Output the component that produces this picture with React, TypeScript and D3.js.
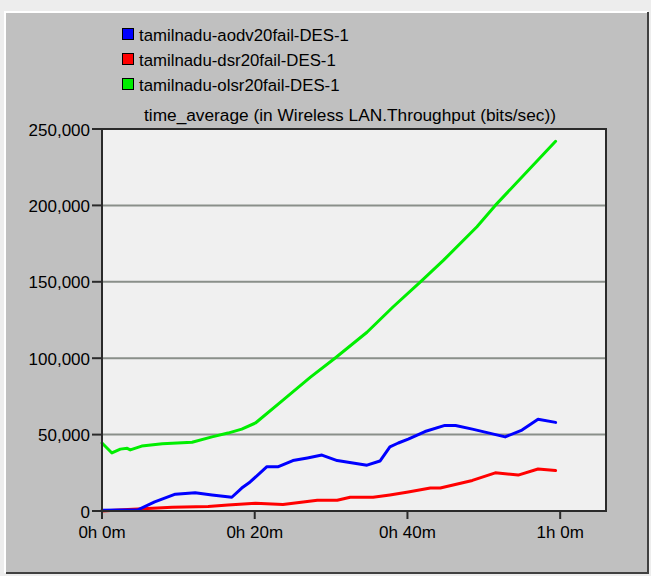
import React, { useEffect, useRef } from "react";
import * as d3 from "d3";

// [minutes, bits/sec]
type Pt = [number, number];

const seriesNames = [
  "tamilnadu-aodv20fail-DES-1",
  "tamilnadu-dsr20fail-DES-1",
  "tamilnadu-olsr20fail-DES-1",
];
const seriesColors = ["#0000ff", "#ff0000", "#00ee00"];

const aodvData: Pt[] = [
  [0, 500], [4.7, 800], [6.9, 6000], [9.6, 11000], [12.2, 12000], [14.4, 10500],
  [17, 9000], [18.3, 15000], [19.4, 19000], [21.6, 29000], [23.1, 29000], [25, 33000],
  [26.9, 34700], [28.8, 36600], [30.8, 33000], [34.7, 30000], [36.4, 32700], [37.7, 42000],
  [38.8, 44500], [40.1, 47000], [42.3, 52000], [44.9, 56000], [46.3, 56000], [48.5, 53600],
  [52.8, 48500], [55, 53000], [57.1, 60000], [59.4, 58000],
];

const dsrData: Pt[] = [
  [0, 0], [3.4, 1000], [9.2, 2500], [13.9, 3000], [16.5, 4000], [20.1, 5000],
  [23.7, 4200], [28.2, 7000], [30.8, 7000], [32.5, 9000], [35.5, 9000], [37.7, 10500],
  [40.1, 12400], [43, 15000], [44.3, 15000], [48.5, 20000], [51.5, 25000], [54.5, 23500],
  [57.1, 27500], [59.4, 26500],
];

const olsrData: Pt[] = [
  [0, 44500], [1.3, 38000], [2.4, 40500], [3.3, 41000], [3.7, 40000], [5.2, 42500],
  [7.9, 44000], [11.8, 45000], [14.4, 48500], [16.5, 51000], [18.3, 53600], [20.1, 57600],
  [23.7, 72600], [27.3, 87600], [30.5, 100000], [34.7, 117000], [38.1, 133500], [41.7, 150000],
  [44.7, 164000], [49.1, 186000], [51.5, 200000], [59.4, 242000],
];

const yTicks = [0, 50000, 100000, 150000, 200000, 250000];
const xTicks = [0, 20, 40, 60];
const xTickLabels = ["0h 0m", "0h 20m", "0h 40m", "1h 0m"];
const chartTitle = "time_average (in Wireless LAN.Throughput (bits/sec))";

const FONT = "'Liberation Sans', Arial, sans-serif";

const ThroughputChart: React.FC = () => {
  const ref = useRef<HTMLDivElement>(null);

  useEffect(() => {
    if (!ref.current) return;
    d3.select(ref.current).selectAll("svg").remove();

    const width = 651;
    const height = 576;
    const plot = { left: 102, right: 606, top: 129, bottom: 511 };

    const svg = d3.select(ref.current)
      .append("svg")
      .attr("width", width)
      .attr("height", height)
      .style("position", "absolute")
      .style("left", 0)
      .style("top", 0)
      .style("font-family", FONT);

    // outside area + beveled gray panel
    svg.append("rect").attr("width", width).attr("height", height).attr("fill", "#ededed");
    svg.append("rect")
      .attr("x", 5).attr("y", 12).attr("width", 643).attr("height", 561)
      .attr("fill", "#c0c0c0");
    svg.append("path").attr("d", "M5,573 V12 H648").attr("fill", "none")
      .attr("stroke", "#ffffff").attr("stroke-width", 2);
    svg.append("path").attr("d", "M6,573 H648 V12").attr("fill", "none")
      .attr("stroke", "#404040").attr("stroke-width", 2);

    const x = d3.scaleLinear().domain([0, 66]).range([plot.left, plot.right]);
    const y = d3.scaleLinear().domain([0, 250000]).range([plot.bottom, plot.top]);

    // plot background
    svg.append("rect")
      .attr("x", plot.left).attr("y", plot.top)
      .attr("width", plot.right - plot.left).attr("height", plot.bottom - plot.top)
      .attr("fill", "#f0f0f0");

    // horizontal gridlines
    svg.selectAll(".grid")
      .data(yTicks.filter(d => d > 0 && d < 250000))
      .join("line")
      .attr("class", "grid")
      .attr("x1", plot.left).attr("x2", plot.right)
      .attr("y1", d => y(d)).attr("y2", d => y(d))
      .attr("stroke", "#8a8f8a").attr("stroke-width", 2);

    // lines (red, green, then blue on top)
    const line = d3.line<Pt>().x(d => x(d[0])).y(d => y(d[1]));
    const order = [1, 2, 0];
    const allData = [aodvData, dsrData, olsrData];
    order.forEach(i => {
      svg.append("path")
        .datum(allData[i])
        .attr("d", line)
        .attr("fill", "none")
        .attr("stroke", seriesColors[i])
        .attr("stroke-width", 3)
        .attr("stroke-linejoin", "round")
        .attr("stroke-linecap", "round");
    });

    // plot frame
    svg.append("rect")
      .attr("x", plot.left).attr("y", plot.top)
      .attr("width", plot.right - plot.left).attr("height", plot.bottom - plot.top)
      .attr("fill", "none").attr("stroke", "#2a2a2a").attr("stroke-width", 2);

    // y axis ticks + labels
    const yAxis = svg.append("g");
    yAxis.selectAll("line")
      .data(yTicks)
      .join("line")
      .attr("x1", plot.left - 10).attr("x2", plot.left)
      .attr("y1", d => y(d)).attr("y2", d => y(d))
      .attr("stroke", "#2a2a2a").attr("stroke-width", 2);
    yAxis.selectAll("text")
      .data(yTicks)
      .join("text")
      .attr("x", plot.left - 12)
      .attr("y", d => y(d) + 6.5)
      .attr("text-anchor", "end")
      .attr("font-size", 17)
      .attr("fill", "#000")
      .text(d => d3.format(",")(d));

    // x axis ticks + labels
    const xAxis = svg.append("g");
    xAxis.selectAll("line")
      .data(xTicks)
      .join("line")
      .attr("x1", d => x(d)).attr("x2", d => x(d))
      .attr("y1", plot.bottom).attr("y2", plot.bottom + 8)
      .attr("stroke", "#2a2a2a").attr("stroke-width", 2);
    xAxis.selectAll("text")
      .data(xTicks)
      .join("text")
      .attr("x", d => x(d))
      .attr("y", plot.bottom + 27)
      .attr("text-anchor", "middle")
      .attr("font-size", 17)
      .attr("fill", "#000")
      .text((d, i) => xTickLabels[i]);

    // title
    svg.append("text")
      .attr("x", 350).attr("y", 121)
      .attr("text-anchor", "middle")
      .attr("font-size", 17.3)
      .attr("fill", "#000")
      .text(chartTitle);

    // legend
    const legend = svg.append("g").attr("transform", "translate(122,28)");
    seriesNames.forEach((name, i) => {
      const g = legend.append("g").attr("transform", `translate(0,${i * 25})`);
      g.append("rect")
        .attr("x", 0.5).attr("y", 0.5).attr("width", 11).attr("height", 11)
        .attr("fill", seriesColors[i]).attr("stroke", "#000").attr("stroke-width", 1);
      g.append("text")
        .attr("x", 17).attr("y", 12.5)
        .attr("font-size", 16.8)
        .attr("fill", "#000")
        .text(name);
    });
  }, []);

  return <div ref={ref} />;
};

export default function App() {
  return <ThroughputChart />;
}
